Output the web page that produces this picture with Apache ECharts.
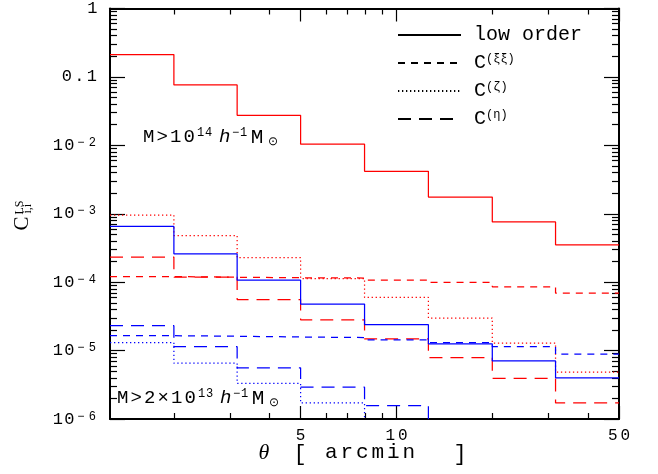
<!DOCTYPE html>
<html><head><meta charset="utf-8">
<script src="https://cdn.jsdelivr.net/npm/echarts@6/dist/echarts.min.js"></script>
<style>html,body{margin:0;padding:0;background:#fff}#c{width:658px;height:474px}</style>
</head><body><div id="c"></div>
<script>
// ---- data ----
const binEdges = [1.26, 2.0, 3.16, 5.0, 7.94, 12.6, 20.0, 31.6, 50.0];
const xMajorTicks = [5, 10, 50];
const xMinorTicks = [2, 3, 4, 6, 7, 8, 9, 20, 30, 40];
const yMajorTicks = [1e-6, 1e-5, 1e-4, 1e-3, 1e-2, 0.1, 1];
const yMinorMultipliers = [2, 3, 4, 5, 6, 7, 8, 9];
const legendNames = ['low order', 'C(ξξ)', 'C(ζ)', 'C(η)'];

// M > 1e14 h^-1 Msun (red)
const redLow  = [0.212, 0.0762, 0.0275, 0.0104, 0.00417, 0.00175, 7.6e-4, 3.52e-4];
const redXi   = [1.21e-4, 1.18e-4, 1.16e-4, 1.15e-4, 1.07e-4, 9.9e-5, 8.55e-5, 6.9e-5];
const redZeta = [9.55e-4, 4.8e-4, 2.28e-4, 1.13e-4, 5.97e-5, 2.99e-5, 1.28e-5, 4.83e-6];
const redEta  = [2.33e-4, 1.18e-4, 5.58e-5, 2.82e-5, 1.48e-5, 7.9e-6, 3.92e-6, 1.72e-6];
// M > 2e13 h^-1 Msun (blue)
const blueLow  = [6.53e-4, 2.6e-4, 1.07e-4, 4.79e-5, 2.39e-5, 1.25e-5, 7.05e-6, 4.0e-6];
const blueXi   = [1.65e-5, 1.62e-5, 1.58e-5, 1.55e-5, 1.43e-5, 1.31e-5, 1.14e-5, 8.85e-6];
const blueZeta = [1.31e-5, 6.53e-6, 3.32e-6, 1.72e-6, 8.5e-7, 4.5e-7, 2.2e-7, 1.0e-7];
const blueEta  = [2.31e-5, 1.14e-5, 5.6e-6, 2.92e-6, 1.57e-6, 8.0e-7, 4.0e-7, 2.0e-7];

// ---- styling ----
const FONT = 'Liberation Mono';
const SERIF = 'Liberation Serif';
const RED = '#ff0000', BLUE = '#0000ff';
const STYLES = { solid: 'solid', xi: [7, 6], zeta: [1.3, 2.7], eta: [13, 8] };

const yMinorTicks = [];
yMajorTicks.slice(0, -1).forEach(d => yMinorMultipliers.forEach(m => yMinorTicks.push(+(m * d).toPrecision(3))));

// split a string into fixed-pitch rich tokens (wide letter spacing like the original font)
function spaced(str, style) {
  return str.split('').map(c => '{' + style + '|' + c + '}').join('');
}

function stepData(vals) {
  return binEdges.map((e, i) => [e, vals[Math.min(i, vals.length - 1)]]);
}
function mkSeries(name, vals, color, dash) {
  return {
    name, type: 'line', step: 'end', data: stepData(vals), symbol: 'none',
    clip: true, silent: true, animation: false,
    itemStyle: { color },
    lineStyle: { color, width: 1.25, type: dash }
  };
}
const series = [
  mkSeries('red low order', redLow, RED, STYLES.solid),
  mkSeries('red xi', redXi, RED, STYLES.xi),
  mkSeries('red zeta', redZeta, RED, STYLES.zeta),
  mkSeries('red eta', redEta, RED, STYLES.eta),
  mkSeries('blue low order', blueLow, BLUE, STYLES.solid),
  mkSeries('blue xi', blueXi, BLUE, STYLES.xi),
  mkSeries('blue zeta', blueZeta, BLUE, STYLES.zeta),
  mkSeries('blue eta', blueEta, BLUE, STYLES.eta),
  // legend-only entries (black, no data)
  mkSeries(legendNames[0], [], '#000', STYLES.solid),
  mkSeries(legendNames[1], [], '#000', STYLES.xi),
  mkSeries(legendNames[2], [], '#000', STYLES.zeta),
  mkSeries(legendNames[3], [], '#000', STYLES.eta)
];
series.slice(-4).forEach(s => { s.data = []; });

const tickLine = { color: '#000', width: 1.2 };
const labelRich = {
  d: { fontFamily: FONT, fontSize: 17, color: '#000', width: 11.5, align: 'center' },
  p: { fontFamily: FONT, fontSize: 17, color: '#000', width: 12.5, align: 'center' },
  x: { fontFamily: FONT, fontSize: 16, color: '#000', width: 12.5, align: 'center' },
  s: { fontFamily: FONT, fontSize: 12, color: '#000', width: 11.5, align: 'center', verticalAlign: 'top' }
};
function xAx(pos, major) {
  return {
    type: 'log', logBase: 10, min: binEdges[0], max: binEdges[binEdges.length - 1],
    splitLine: { show: false }, minorTick: { show: false },
    position: pos,
    axisLine: { show: major, onZero: false, lineStyle: { color: '#000', width: 2 } },
    axisTick: { show: true, inside: true, length: major ? 13 : 6, customValues: major ? xMajorTicks : xMinorTicks, lineStyle: tickLine },
    axisLabel: (major && pos === 'bottom') ? {
      show: true, customValues: xMajorTicks, margin: 9, color: '#000', fontFamily: FONT, fontSize: 16,
      formatter: v => spaced(String(Math.round(v)), 'x'), rich: labelRich
    } : { show: false }
  };
}
function yLabel(v) {
  if (Math.abs(v - 1) < 1e-9) return spaced('1', 'd');
  if (Math.abs(v - 0.1) < 1e-9) return spaced('0.1', 'p');
  const e = Math.round(Math.log10(v));
  return spaced('10', 'd') + spaced('−' + Math.abs(e), 's');
}
function yAx(pos, major) {
  return {
    type: 'log', logBase: 10, min: yMajorTicks[0], max: yMajorTicks[yMajorTicks.length - 1],
    splitLine: { show: false }, minorTick: { show: false },
    position: pos,
    axisLine: { show: major, onZero: false, lineStyle: { color: '#000', width: 2 } },
    axisTick: { show: true, inside: true, length: major ? 15 : 7, customValues: major ? yMajorTicks : yMinorTicks, lineStyle: tickLine },
    axisLabel: (major && pos === 'left') ? {
      show: true, customValues: yMajorTicks, margin: 12, color: '#000', fontFamily: FONT, fontSize: 17,
      formatter: yLabel, rich: labelRich
    } : { show: false }
  };
}

const legendRich = {
  c: { fontFamily: FONT, fontSize: 20, color: '#000' },
  s: { fontFamily: FONT, fontSize: 12, color: '#000', verticalAlign: 'top' }
};
function legendFmt(n) {
  if (n === legendNames[0]) return '{c|' + n + '}';
  return '{c|C}{s|' + n.slice(1) + '}';
}

const annRich = {
  m: { fontFamily: FONT, fontSize: 19, color: '#000', width: 13.5 },
  mm: { fontFamily: FONT, fontSize: 21, color: '#000', width: 18, align: 'center' },
  h: { fontFamily: FONT, fontSize: 19, color: '#000', fontStyle: 'italic', width: 13 },
  g: { fontFamily: FONT, fontSize: 12, color: '#000', width: 6 },
  sup: { fontFamily: FONT, fontSize: 12, color: '#000', verticalAlign: 'top', width: 8 },
  sub: { fontFamily: FONT, fontSize: 12, color: '#000', verticalAlign: 'bottom', width: 12, align: 'right' }
};
function annText(prefix, exp) {
  return spaced(prefix, 'm') + spaced(exp, 'sup') + '{g| }{h|h}' + spaced('−1', 'sup') + '{mm|M}{sub|⊙}';
}

const option = {
  backgroundColor: '#fff',
  animation: false,
  grid: { left: 110, top: 6, right: 39, bottom: 55, containLabel: false },
  xAxis: [xAx('bottom', true), xAx('bottom', false), xAx('top', true), xAx('top', false)],
  yAxis: [yAx('left', true), yAx('left', false), yAx('right', true), yAx('right', false)],
  legend: {
    data: legendNames, orient: 'vertical', left: 397, top: 25, padding: 0,
    itemWidth: 63, itemHeight: 14, itemGap: 8, selectedMode: false,
    itemStyle: { opacity: 0 },
    textStyle: { fontFamily: FONT, fontSize: 20, color: '#000', padding: [0, 0, 0, 8], rich: legendRich },
    formatter: legendFmt
  },
  series,
  graphic: [
    { type: 'text', x: 143, y: 137, silent: true,
      style: { text: annText('M>10', '14'), rich: annRich, align: 'left', verticalAlign: 'middle' } },
    { type: 'text', x: 117, y: 398, silent: true,
      style: { text: annText('M>2×10', '13'), rich: annRich, align: 'left', verticalAlign: 'middle' } },
    // x axis title: θ [ arcmin ]
    { type: 'text', x: 264, y: 453, silent: true,
      style: { text: 'θ', fontFamily: SERIF, fontSize: 22, fontStyle: 'italic', fill: '#000', align: 'center', verticalAlign: 'middle' } },
    { type: 'text', x: 300, y: 454, silent: true,
      style: { text: '[', fontFamily: FONT, fontSize: 22, fill: '#000', align: 'center', verticalAlign: 'middle' } },
    { type: 'text', x: 325, y: 452, silent: true,
      style: { text: spaced('arcmin', 'a'), rich: { a: { fontFamily: FONT, fontSize: 21, color: '#000', width: 15.5 } }, align: 'left', verticalAlign: 'middle' } },
    { type: 'text', x: 460, y: 454, silent: true,
      style: { text: ']', fontFamily: FONT, fontSize: 22, fill: '#000', align: 'center', verticalAlign: 'middle' } },
    // y axis title: C^LS_{i,i}, rotated
    { type: 'group', x: 22.5, y: 223.5, rotation: Math.PI / 2, silent: true, children: [
      { type: 'text', x: 0, y: 0, style: { text: 'C', fontFamily: SERIF, fontSize: 21, fill: '#000', align: 'center', verticalAlign: 'middle' } },
      { type: 'text', x: 9, y: -3, style: { text: 'LS', fontFamily: SERIF, fontSize: 12, fill: '#000', align: 'left', verticalAlign: 'middle' } },
      { type: 'text', x: 10, y: 5.5, style: { text: 'i,i', fontFamily: SERIF, fontSize: 12, fill: '#000', align: 'left', verticalAlign: 'middle' } }
    ] }
  ]
};
const chart = echarts.init(document.getElementById('c'));
chart.setOption(option);
</script>
</body></html>
